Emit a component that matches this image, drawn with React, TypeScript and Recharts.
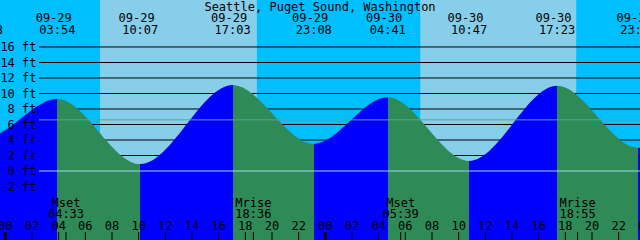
import { Area, ComposedChart, ReferenceArea, ReferenceLine, XAxis, YAxis } from "recharts";

const stationName = "Seattle, Puget Sound, Washington";

// high / low waters; the first and the last one sit just off the picture
const tideDates = ["09-28", "09-28", "09-29", "09-29", "09-29", "09-29", "09-30", "09-30", "09-30", "09-30", "10-01"];
const tideTimes = ["16:12", "22:28", "03:54", "10:07", "17:03", "23:08", "04:41", "10:47", "17:23", "23:28", "05:30"];
const tideHeights = [10.9, 4.3, 9.3, 0.9, 11.1, 3.5, 9.5, 1.3, 11.0, 3.0, 9.6];

// sunrise, sunset, sunrise, sunset
const sunDates = ["09-29", "09-29", "09-30", "09-30"];
const sunTimes = ["07:06", "18:52", "07:07", "18:49"];

const moonNames = ["Mset", "Mrise", "Mset", "Mrise"];
const moonDates = ["09-29", "09-29", "09-30", "09-30"];
const moonTimes = ["04:33", "18:36", "05:39", "18:55"];

const heightTicks = [-2, 0, 2, 4, 6, 8, 10, 12, 14, 16];
const gridHeights = [2, 4, 6, 8, 10, 12, 14, 16];
const hourTicks = [0, 2, 4, 6, 8, 10, 12, 14, 16, 18, 20, 22, 24, 26, 28, 30, 32, 34, 36, 38, 40, 42, 44, 46, 48];
const meanLevel = 6.6;

const W = 640;
const H = 240;
const T0 = -0.4; // hours from 09-29 00:00
const T1 = 47.6;
const Y_MIN = -8.9;
const Y_MAX = 22.06;
const gridStart = T0 + ((T1 - T0) * 39) / W;

const nightColor = "#00bfff";
const dayColor = "#87ceeb";
const floodColor = "#0000ff";
const ebbColor = "#2e8b57";
const font = { fontFamily: "'DejaVu Sans Mono', monospace", fontSize: 12 };

function toHours(date: string, time: string) {
  const [m, d] = date.split("-").map(Number);
  const [hh, mm] = time.split(":").map(Number);
  const day = (Date.UTC(2000, m - 1, d) - Date.UTC(2000, 8, 29)) / 86400000;
  return day * 24 + hh + mm / 60;
}

const tideData = tideTimes.map((time, i) => ({ t: toHours(tideDates[i], time), height: tideHeights[i] }));
const sunHours = sunTimes.map((time, i) => toHours(sunDates[i], time));
const moonHours = moonTimes.map((time, i) => toHours(moonDates[i], time));

const nights = [
  [T0, sunHours[0]],
  [sunHours[1], sunHours[2]],
  [sunHours[3], T1],
];
const days = [
  [sunHours[0], sunHours[1]],
  [sunHours[2], sunHours[3]],
];

const tFirst = tideData[0].t;
const tSpan = tideData[tideData.length - 1].t - tFirst;

const HeightTick = (props: any) => (
  <text x={36.5} y={props.y + 4.4} textAnchor="end" {...font} fill="#000">
    {`${props.payload.value} ft`}
  </text>
);

const HourTick = (props: any) => {
  const h = props.payload.value;
  const midnight = h % 24 === 0;
  return (
    <g>
      <text x={props.x} y={230} textAnchor="middle" {...font} fill="#000">
        {String(h % 24).padStart(2, "0")}
      </text>
      <line x1={props.x} x2={props.x} y1={232} y2={240} stroke="#000" strokeWidth={midnight ? 3 : 1} />
    </g>
  );
};

const TideLabel = (props: any) => {
  const x = props.viewBox?.x ?? 0;
  return (
    <g>
      <text x={x - 3.6} y={22} textAnchor="middle" {...font} fill="#000">
        {tideDates[props.i]}
      </text>
      <text x={x} y={34} textAnchor="middle" {...font} fill="#000">
        {tideTimes[props.i]}
      </text>
    </g>
  );
};

const MoonLabel = (props: any) => {
  const x = props.viewBox?.x ?? 0;
  return (
    <g>
      <text x={x} y={206.5} textAnchor="middle" {...font} fill="#000">
        {moonNames[props.i]}
      </text>
      <text x={x} y={218.3} textAnchor="middle" {...font} fill="#000">
        {moonTimes[props.i]}
      </text>
      <line x1={x} x2={x} y1={232} y2={240} stroke="#000" strokeWidth={1} />
    </g>
  );
};

export default function App() {
  return (
    <div style={{ position: "fixed", left: 0, top: 0, width: W, height: H, background: nightColor }}>
      <ComposedChart width={W} height={H} data={tideData} margin={{ top: 0, right: 0, bottom: 0, left: 0 }}>
        <defs>
          <linearGradient id="tideFill" x1="0" y1="0" x2="1" y2="0">
            {tideData.slice(0, -1).map((d, i) => {
              const next = tideData[i + 1];
              const color = next.height > d.height ? floodColor : ebbColor;
              return [
                <stop key={`a${i}`} offset={(d.t - tFirst) / tSpan} stopColor={color} />,
                <stop key={`b${i}`} offset={(next.t - tFirst) / tSpan} stopColor={color} />,
              ];
            })}
          </linearGradient>
        </defs>
        <XAxis
          dataKey="t"
          type="number"
          domain={[T0, T1]}
          allowDataOverflow
          ticks={hourTicks}
          interval={0}
          mirror
          axisLine={false}
          tickLine={false}
          tick={HourTick}
        />
        <YAxis
          type="number"
          domain={[Y_MIN, Y_MAX]}
          allowDataOverflow
          ticks={heightTicks}
          interval={0}
          mirror
          axisLine={false}
          tickLine={false}
          tick={HeightTick}
        />
        {nights.map(([a, b], i) => (
          <ReferenceArea key={`n${i}`} x1={a} x2={b} fill={nightColor} fillOpacity={1} stroke="none" zIndex={-60} />
        ))}
        {days.map(([a, b], i) => (
          <ReferenceArea key={`d${i}`} x1={a} x2={b} fill={dayColor} fillOpacity={1} stroke="none" zIndex={-60} />
        ))}
        {gridHeights.map((v) => (
          <ReferenceLine
            key={v}
            segment={[{ x: gridStart, y: v }, { x: T1, y: v }]}
            stroke="#000"
            strokeWidth={1}
            zIndex={-50}
          />
        ))}
        <Area
          type="monotone"
          dataKey="height"
          stroke="none"
          fill="url(#tideFill)"
          fillOpacity={1}
          baseValue={Y_MIN}
          dot={false}
          activeDot={false}
          isAnimationActive={false}
        />
        <ReferenceLine segment={[{ x: gridStart, y: 0 }, { x: T1, y: 0 }]} stroke="#a0d8ef" strokeWidth={1} zIndex={300} />
        <ReferenceLine
          segment={[{ x: gridStart, y: meanLevel }, { x: T1, y: meanLevel }]}
          stroke="#5aa58a"
          strokeWidth={1}
          zIndex={300}
        />
        {tideData.map((d, i) => (
          <ReferenceLine
            key={`tl${i}`}
            x={d.t}
            stroke="none"
            ifOverflow="visible"
            zIndex={600}
            label={<TideLabel i={i} />}
          />
        ))}
        {moonHours.map((t, i) => (
          <ReferenceLine
            key={`ml${i}`}
            x={t}
            stroke="none"
            ifOverflow="visible"
            zIndex={600}
            label={<MoonLabel i={i} />}
          />
        ))}
        <text x={320} y={10.7} textAnchor="middle" {...font} fill="#000">
          {stationName}
        </text>
      </ComposedChart>
    </div>
  );
}
